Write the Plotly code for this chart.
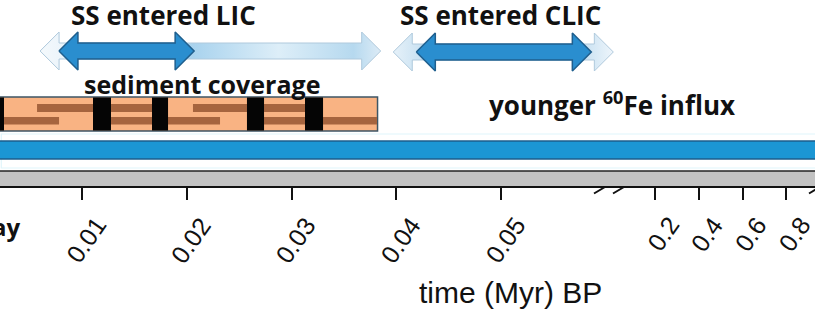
import plotly.graph_objects as go

# ---------------- data (time in Myr BP) ----------------
tick_times = [0.01, 0.02, 0.03, 0.04, 0.05, 0.2, 0.4, 0.6, 0.8]
tick_labels = ["0.01", "0.02", "0.03", "0.04", "0.05", "0.2", "0.4", "0.6", "0.8"]

lic_likely = [0.0078, 0.0207]          # SS entered LIC (dark arrow)
lic_range = [0.0060, 0.0385]           # uncertainty (light arrow)
clic_likely = [0.0419, 0.0586]         # SS entered CLIC (dark arrow)
clic_range = [0.0397, 0.0607]          # uncertainty (light arrow)

sediment_span = [0.0010, 0.0382]
sediment_gaps = [[0.0010, 0.00256], [0.01105, 0.01277], [0.01668, 0.01821],
                 [0.02574, 0.02737], [0.03128, 0.0330]]
stripe_upper = [[0.00571, 0.01105], [0.01277, 0.01668], [0.02059, 0.02574],
                [0.02737, 0.03128]]
stripe_lower = [[0.00256, 0.00781], [0.01277, 0.01668], [0.01821, 0.02317],
                [0.02737, 0.03128], [0.0330, 0.03815]]

fe_influx = [0.0, 1.0]                 # younger 60Fe influx
timeline = [0.0, 1.0]                  # grey time bar

# ---------------- broken-axis scale ----------------
PX_PER_U = 10480.0          # linear part: display units per pixel
U_BREAK2 = 0.064676         # display position of t = 0.2
SLOPE2 = 219.0 / PX_PER_U   # compressed part (per Myr)


def to_u(t):
    if t <= 0.1:
        return t
    return U_BREAK2 + (t - 0.2) * SLOPE2


U_MIN = 0.01 - 82 / PX_PER_U
U_MAX = 0.01 + 733 / PX_PER_U
PLOT_H = 186


def px_u(px):
    return U_MIN + px / PX_PER_U


def py(p):
    return (PLOT_H - p) / PLOT_H


fig = go.Figure()
shapes = []


def rect(t0, t1, y0, y1, fill, line=None, lw=0):
    shapes.append(dict(type="rect", xref="x", yref="y",
                       x0=to_u(t0), x1=to_u(t1), y0=y0, y1=y1,
                       fillcolor=fill, layer="above",
                       line=dict(color=line or fill, width=lw)))


# light cyan frame around influx bar
shapes.append(dict(type="rect", xref="x", yref="y", x0=to_u(0.0023), x1=to_u(1.0),
                   y0=134, y1=168, fillcolor="rgba(0,0,0,0)", layer="above",
                   line=dict(color="#E0F5FB", width=1.2)))
# younger 60Fe influx bar
rect(fe_influx[0], fe_influx[1], 141, 159, "#1B96D4", "#1C5E8C", 1.5)
# grey timeline bar
rect(timeline[0], timeline[1], 171, 186, "#C2C2C2", "#C2C2C2", 0)
shapes.append(dict(type="line", xref="x", yref="y", x0=to_u(timeline[0]),
                   x1=to_u(timeline[1]), y0=171, y1=171, layer="above",
                   line=dict(color="#222222", width=1.5)))

# sediment coverage bar
rect(sediment_span[0], sediment_span[1], 97, 131, "#F9B383", "#3E5666", 1.5)
for a, b in stripe_upper:
    rect(a, b, 104, 112, "#A6643E")
for a, b in stripe_lower:
    rect(a, b, 117, 124.5, "#A6643E")
for a, b in sediment_gaps:
    rect(a, b, 97.5, 130.5, "#050505")

# axis-break slashes
for x0, x1 in [(594, 605), (613, 624), (809, 820)]:
    shapes.append(dict(type="line", xref="x", yref="paper",
                       x0=px_u(x0), x1=px_u(x1), y0=py(193.5), y1=py(187),
                       line=dict(color="#111111", width=2)))


# arrows
HL = 19 / PX_PER_U


def arrow(x0, x1, yc, sh=8, hh=19):
    xl, xr = to_u(x0), to_u(x1)
    xs = [xl, xl + HL, xl + HL, xr - HL, xr - HL, xr, xr - HL, xr - HL,
          xl + HL, xl + HL, xl]
    ys = [yc, yc - hh, yc - sh, yc - sh, yc - hh, yc, yc + hh, yc + sh,
          yc + sh, yc + hh, yc]
    return xs, ys


xs, ys = arrow(*lic_range, 51)
fig.add_trace(go.Scatter(x=xs, y=ys, mode="lines", fill="toself",
                         line=dict(color="#AFC9DC", width=1),
                         fillgradient=dict(type="horizontal", colorscale=[
                             [0, "#F4F9FC"], [0.08, "#EAF3FA"], [0.45, "#A9D3EE"],
                             [0.7, "#DDEEF8"], [0.92, "#B6D9EF"], [1, "#DCEBF6"]]),
                         hoverinfo="skip", showlegend=False))
xs, ys = arrow(*clic_range, 52)
fig.add_trace(go.Scatter(x=xs, y=ys, mode="lines", fill="toself",
                         line=dict(color="#AFC9DC", width=1),
                         fillgradient=dict(type="horizontal", colorscale=[
                             [0, "#E6F1F9"], [0.15, "#C4DFF1"], [0.85, "#C4DFF1"],
                             [1, "#EEF5FB"]]),
                         hoverinfo="skip", showlegend=False))
for rng, yc in [(lic_likely, 51), (clic_likely, 52)]:
    xs, ys = arrow(*rng, yc)
    fig.add_trace(go.Scatter(x=xs, y=ys, mode="lines", fill="toself",
                             fillcolor="#2A8ECF", line=dict(color="#1F5F8E", width=1.5),
                             hoverinfo="skip", showlegend=False))

TFONT = dict(family="Open Sans", size=26, color="#111111")
annotations = [
    dict(text="<b>SS entered LIC</b>", x=px_u(163), y=py(15), font=TFONT),
    dict(text="<b>SS entered CLIC</b>", x=px_u(500), y=py(15), font=TFONT),
    dict(text="<b>sediment coverage</b>", x=px_u(202), y=py(84),
         font=dict(family="Open Sans", size=25, color="#111111")),
    dict(text="<b>younger <sup>60</sup>Fe influx</b>", x=px_u(612), y=py(104),
         font=dict(family="Open Sans", size=26, color="#111111")),
    dict(text="<b>ay</b>", x=px_u(22), y=py(226), xanchor="right",
         font=dict(family="Open Sans", size=24, color="#111111")),
    dict(text="time (Myr) BP", x=px_u(510), y=py(292),
         font=dict(family="Liberation Sans", size=30, color="#111111")),
]
# rotated tick labels (placed next to their ticks)
for t, lab in zip(tick_times, tick_labels):
    short = len(lab) <= 3
    annotations.append(dict(
        text=lab, x=to_u(t) + (8 if short else 4) / PX_PER_U,
        y=py(234 if short else 240), textangle=-55,
        font=dict(family="Liberation Sans", size=25, color="#111111")))

for a in annotations:
    a.setdefault("xanchor", "center")
    a.setdefault("yanchor", "middle")
    a.update(xref="x", yref="paper", showarrow=False)

fig.update_layout(
    width=815, height=312,
    margin=dict(l=0, r=0, t=0, b=312 - PLOT_H, pad=0),
    paper_bgcolor="white", plot_bgcolor="white",
    shapes=shapes, annotations=annotations, showlegend=False,
    xaxis=dict(range=[U_MIN, U_MAX], tickvals=[to_u(t) for t in tick_times],
               ticktext=tick_labels, showticklabels=False,
               ticks="outside", ticklen=12, tickwidth=2,
               tickcolor="#111111", showline=True, linecolor="#111111", linewidth=2,
               showgrid=False, zeroline=False, fixedrange=True),
    yaxis=dict(range=[PLOT_H, 0], visible=False, fixedrange=True),
)

fig.write_html("out.html")
